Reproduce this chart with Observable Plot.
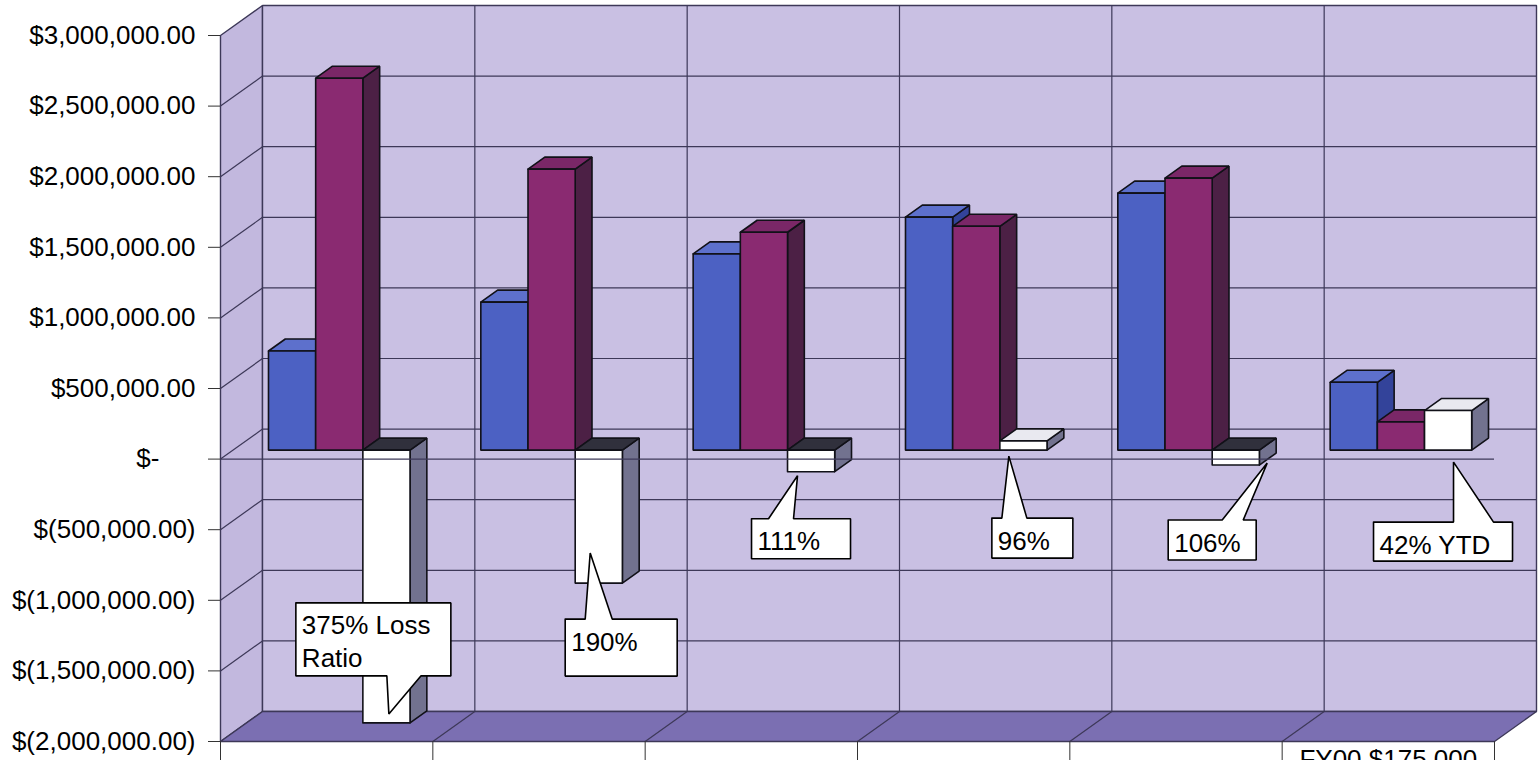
<!DOCTYPE html>
<html>
<head>
<meta charset="utf-8">
<script src="https://cdn.jsdelivr.net/npm/d3@7"></script>
<script src="https://cdn.jsdelivr.net/npm/@observablehq/plot@0.6"></script>
<style>
  html, body { margin: 0; padding: 0; background: #fff; overflow: hidden; }
  #chart svg { display: block; }
</style>
</head>
<body>
<div id="chart"></div>
<script>
// ---- data -------------------------------------------------------------
const categoryLabels = ["", "", "", "", "", "FY00 $175,000"];
const premiums   = [702000, 1048000, 1390000, 1650000, 1820000, 480000];
const losses     = [2634000, 1990000, 1543000, 1585000, 1926000, 200000];
const netResult  = [-1932000, -942000, -153000, 65000, -106000, 280000];
const ratioLabels = ["375% Loss\nRatio", "190%", "111%", "96%", "106%", "42% YTD"];
const yMin = -2000000, yMax = 3000000, yStep = 500000;

// ---- layout -----------------------------------------------------------
const W = 1540, H = 760;
const M = {left: 220, right: 46, top: 35, bottom: 19};
const nCat = categoryLabels.length;
const pxPerCat = (W - M.left - M.right) / nCat;
const pxPerDollar = (H - M.top - M.bottom) / (yMax - yMin);
const WALL_DX = 42, WALL_DY = 30;            // depth of the box, in pixels
const kx = WALL_DX / pxPerCat, ky = WALL_DY / pxPerDollar;
const BAR_T0 = 0.3, BAR_T1 = 0.7;            // bars sit in the middle of the depth
const GROUP_PAD = 1 / 6, BAR_W = 2 / 9;

// data point at depth t (0 = front, 1 = back wall), nudged by pixels
const pt = (x, y, t = 0, nx = 0, ny = 0) =>
  ({x: x + t * kx + nx / pxPerCat, y: y + t * ky - ny / pxPerDollar});

const series = [
  {values: premiums,  front: "#4c61c3", top: "#5d70cc", topNeg: "#2e2e3c", side: "#33439a"},
  {values: losses,    front: "#8a2a71", top: "#7a2767", topNeg: "#2e2e3c", side: "#4c2045"},
  {values: netResult, front: "#ffffff", top: "#e9e9f0", topNeg: "#30303c", side: "#72728f"}
];

// ---- polygons ---------------------------------------------------------
function polyRows(list) {
  const rows = [];
  list.forEach((p, id) => {
    for (const q of [...p.points, p.points[0]]) rows.push({id, x: q.x, y: q.y, fill: p.fill});
  });
  return rows;
}

const wallPolys = [
  {fill: "#c2b8de", points: [pt(0, yMin, 0), pt(0, yMax, 0), pt(0, yMax, 1), pt(0, yMin, 1)]},
  {fill: "#c9c0e3", points: [pt(0, yMin, 1), pt(0, yMax, 1), pt(nCat, yMax, 1), pt(nCat, yMin, 1)]},
  {fill: "#7b6fb2", points: [pt(0, yMin, 0), pt(nCat, yMin, 0), pt(nCat, yMin, 1), pt(0, yMin, 1)]}
];

const yTicks = d3.range(yMin, yMax + 1, yStep);
const gridLinks = [];
for (const v of yTicks) {
  if (v === yMin || v === yMax) continue;
  const a = pt(0, v, 0), b = pt(0, v, 1), c = pt(nCat, v, 1);
  gridLinks.push({x1: a.x, y1: a.y, x2: b.x, y2: b.y});
  gridLinks.push({x1: b.x, y1: b.y, x2: c.x, y2: c.y});
}
for (let i = 1; i < nCat; i++) {
  const a = pt(i, yMin, 0), b = pt(i, yMin, 1), c = pt(i, yMax, 1);
  gridLinks.push({x1: a.x, y1: a.y, x2: b.x, y2: b.y});
  gridLinks.push({x1: b.x, y1: b.y, x2: c.x, y2: c.y});
}

const barPolys = [];
for (let g = 0; g < nCat; g++) {
  series.forEach((s, k) => {
    const v = s.values[g];
    const x0 = g + GROUP_PAD + k * BAR_W, x1 = x0 + BAR_W;
    const lo = Math.min(0, v), hi = Math.max(0, v);
    barPolys.push({fill: s.side, points: [pt(x1, lo, BAR_T0), pt(x1, hi, BAR_T0), pt(x1, hi, BAR_T1), pt(x1, lo, BAR_T1)]});
    barPolys.push({fill: v < 0 ? s.topNeg : s.top, points: [pt(x0, hi, BAR_T0), pt(x1, hi, BAR_T0), pt(x1, hi, BAR_T1), pt(x0, hi, BAR_T1)]});
    barPolys.push({fill: s.front, points: [pt(x0, lo, BAR_T0), pt(x1, lo, BAR_T0), pt(x1, hi, BAR_T0), pt(x0, hi, BAR_T0)]});
  });
}

// ---- callouts (pixel offsets from the lower-left front corner of the net bar)
const calloutLayout = [
  {box: [-67, -120, 155, 73], tip: [26, -9],  base: [24, 58]},
  {box: [-10, 36, 112, 57],   tip: [15, -30], base: [10, 37]},
  {box: [-36, 47, 99, 40],    tip: [10, 4],   base: [-19, 6]},
  {box: [-8, 68, 81, 40],     tip: [9, 6],    base: [2, 27]},
  {box: [-44, 55, 88, 40],    tip: [55, -2],  base: [10, 31]},
  {box: [-51, 72, 139, 39],   tip: [29, 12],  base: [29, 69]}
];
const calloutPolys = [], calloutTexts = [];
calloutLayout.forEach((c, g) => {
  const v = netResult[g];
  const ax = g + GROUP_PAD + 2 * BAR_W, ay = Math.min(0, v);
  const P = (nx, ny) => pt(ax, ay, BAR_T0, nx, ny);
  const [l, t, w, h] = c.box, r = l + w, b = t + h;
  const [tx, ty] = c.tip, [bl, br] = c.base;
  const points = ty < t
    ? [P(l, t), P(bl, t), P(tx, ty), P(br, t), P(r, t), P(r, b), P(l, b)]
    : [P(l, t), P(r, t), P(r, b), P(br, b), P(tx, ty), P(bl, b), P(l, b)];
  calloutPolys.push({fill: "#ffffff", points});
  const q = P(l + 6, t + 8);
  calloutTexts.push({x: q.x, y: q.y, text: ratioLabels[g]});
});

// ---- axis formatting ------------------------------------------------------
const num = d3.format(",.2f");
const money = (v) => v === 0 ? "$-\u00a0\u00a0\u00a0\u00a0\u00a0" : v > 0 ? "$" + num(v) : "$(" + num(-v) + ")";

const chart = Plot.plot({
  width: W, height: H,
  marginLeft: M.left, marginRight: M.right, marginTop: M.top, marginBottom: M.bottom,
  x: {type: "linear", domain: [0, nCat]},
  y: {domain: [yMin, yMax]},
  color: {type: "identity"},
  style: {fontFamily: "'Liberation Sans', Arial, sans-serif", fontSize: "26px", color: "#000", background: "#fff", overflow: "visible"},
  marks: [
    Plot.line(polyRows(wallPolys), {x: "x", y: "y", z: "id", fill: "fill", stroke: "#3d3858", strokeWidth: 1.4, strokeLinejoin: "miter"}),
    Plot.link(gridLinks, {x1: "x1", y1: "y1", x2: "x2", y2: "y2", stroke: "#3d3858", strokeWidth: 1.2}),
    Plot.line(polyRows(barPolys), {x: "x", y: "y", z: "id", fill: "fill", stroke: "#111118", strokeWidth: 1.6, strokeLinejoin: "miter"}),
    Plot.ruleY([0], {x1: 0, x2: nCat, stroke: "#3d3858", strokeWidth: 1.4}),
    Plot.line(polyRows(calloutPolys), {x: "x", y: "y", z: "id", fill: "fill", stroke: "#000", strokeWidth: 1.6, strokeLinejoin: "miter"}),
    Plot.text(calloutTexts, {x: "x", y: "y", text: "text", textAnchor: "start", lineAnchor: "top", lineHeight: 1.27, fontSize: 26, fill: "#000"}),
    Plot.axisY(yTicks, {tickSize: 12, tickPadding: 13, tickFormat: money, label: null, fontSize: 26, stroke: "#333"}),
    Plot.axisX(d3.range(0, nCat + 1), {tickSize: 24, tickFormat: () => "", label: null, stroke: "#333"}),
    Plot.text(categoryLabels, {x: (d, i) => i + 0.5, y: yMin, dy: 8, lineAnchor: "top", fontSize: 26, fill: "#000"})
  ]
});
document.getElementById("chart").append(chart);
</script>
</body>
</html>
